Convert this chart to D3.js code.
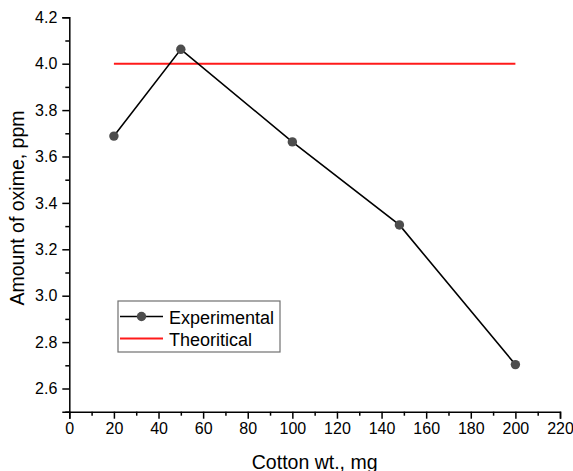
<!DOCTYPE html>
<html lang="en">
<head>
  <meta charset="utf-8">
  <title>Amount of oxime vs cotton weight</title>
  <script src="https://d3js.org/d3.v7.min.js"></script>
<style>
  body { margin: 0; background: #fff; }
  text { font-family: Arial, "Liberation Sans", sans-serif; fill: #000; }
</style>
</head>
<body>
  <div id="chart"></div>
  <script>
    // values
    var cottonWt = [20, 50, 100, 148, 200];
    var oximeExp = [3.688, 4.062, 3.663, 3.305, 2.703];
    var theoX = [20, 200];
    var theoY = [4.0, 4.0];
    var xTicks = [0, 20, 40, 60, 80, 100, 120, 140, 160, 180, 200, 220];
    var yTicks = [2.6, 2.8, 3.0, 3.2, 3.4, 3.6, 3.8, 4.0, 4.2];
    var seriesNames = ["Experimental", "Theoritical"];

    var width = 573, height = 471;
    var x = d3.scaleLinear().domain([0, 220]).range([69.3, 560]);
    var y = d3.scaleLinear().domain([2.5, 4.2]).range([411.7, 17.3]);

    var svg = d3.select("#chart").append("svg")
      .attr("width", width)
      .attr("height", height);

    // minor ticks first, then major axis on top
    var xMinor = d3.range(10, 220, 20);
    var yMinor = d3.range(2.5, 4.15, 0.2);

    svg.append("g")
      .attr("transform", "translate(0," + y.range()[0] + ")")
      .call(d3.axisBottom(x).tickValues(xMinor).tickSize(4).tickFormat(""))
      .call(function (g) { g.select(".domain").remove(); })
      .selectAll("line").attr("stroke-width", 1.5);

    svg.append("g")
      .attr("transform", "translate(" + x.range()[0] + ",0)")
      .call(d3.axisLeft(y).tickValues(yMinor).tickSize(4).tickFormat(""))
      .call(function (g) { g.select(".domain").remove(); })
      .selectAll("line").attr("stroke-width", 1.5);

    var gx = svg.append("g")
      .attr("transform", "translate(0," + y.range()[0] + ")")
      .call(d3.axisBottom(x).tickValues(xTicks).tickSizeOuter(0).tickSize(7).tickPadding(4).tickFormat(d3.format("d")));
    gx.select(".domain").attr("stroke-width", 1.5);
    gx.selectAll("line").attr("stroke-width", 1.5);
    gx.selectAll("text").style("font-size", "16px");

    var gy = svg.append("g")
      .attr("transform", "translate(" + x.range()[0] + ",0)")
      .call(d3.axisLeft(y).tickValues(yTicks).tickSizeOuter(0).tickSize(7).tickPadding(5).tickFormat(d3.format(".1f")));
    gy.select(".domain").attr("stroke-width", 1.5);
    gy.selectAll("line").attr("stroke-width", 1.5);
    gy.selectAll("text").style("font-size", "16px");

    // theoretical line
    svg.append("path")
      .datum(d3.zip(theoX, theoY))
      .attr("fill", "none")
      .attr("stroke", "#ff1a1a")
      .attr("stroke-width", 2)
      .attr("d", d3.line().x(function (d) { return x(d[0]); }).y(function (d) { return y(d[1]); }));

    // experimental line + markers
    var expData = d3.zip(cottonWt, oximeExp);
    svg.append("path")
      .datum(expData)
      .attr("fill", "none")
      .attr("stroke", "#000")
      .attr("stroke-width", 1.6)
      .attr("d", d3.line().x(function (d) { return x(d[0]); }).y(function (d) { return y(d[1]); }));

    svg.selectAll("circle.pt")
      .data(expData)
      .enter().append("circle")
      .attr("class", "pt")
      .attr("cx", function (d) { return x(d[0]); })
      .attr("cy", function (d) { return y(d[1]); })
      .attr("r", 4.7)
      .attr("fill", "#4d4d4d");

    // axis titles
    svg.append("text")
      .attr("x", (x.range()[0] + x.range()[1]) / 2)
      .attr("y", 469)
      .attr("text-anchor", "middle")
      .style("font-size", "19.5px")
      .text("Cotton wt., mg");

    svg.append("text")
      .attr("transform", "translate(24," + 208 + ") rotate(-90)")
      .attr("text-anchor", "middle")
      .style("font-size", "19.5px")
      .text("Amount of oxime, ppm");

    // legend
    var leg = svg.append("g").attr("transform", "translate(118,301)");
    leg.append("rect")
      .attr("width", 162).attr("height", 51)
      .attr("fill", "#fff")
      .attr("stroke", "#707070")
      .attr("stroke-width", 1.2);

    var rows = leg.selectAll("g.row")
      .data(seriesNames)
      .enter().append("g")
      .attr("class", "row")
      .attr("transform", function (d, i) { return "translate(0," + (15.5 + i * 22) + ")"; });

    rows.append("line")
      .attr("x1", 2).attr("x2", 45)
      .attr("stroke", function (d, i) { return i === 0 ? "#000" : "#ff1a1a"; })
      .attr("stroke-width", function (d, i) { return i === 0 ? 1.6 : 2; });

    rows.filter(function (d, i) { return i === 0; })
      .append("circle")
      .attr("cx", 23.5).attr("r", 4.7)
      .attr("fill", "#4d4d4d");

    rows.append("text")
      .attr("x", 51)
      .attr("y", 7)
      .style("font-size", "18px")
      .text(function (d) { return d; });
  </script>
</body>
</html>
